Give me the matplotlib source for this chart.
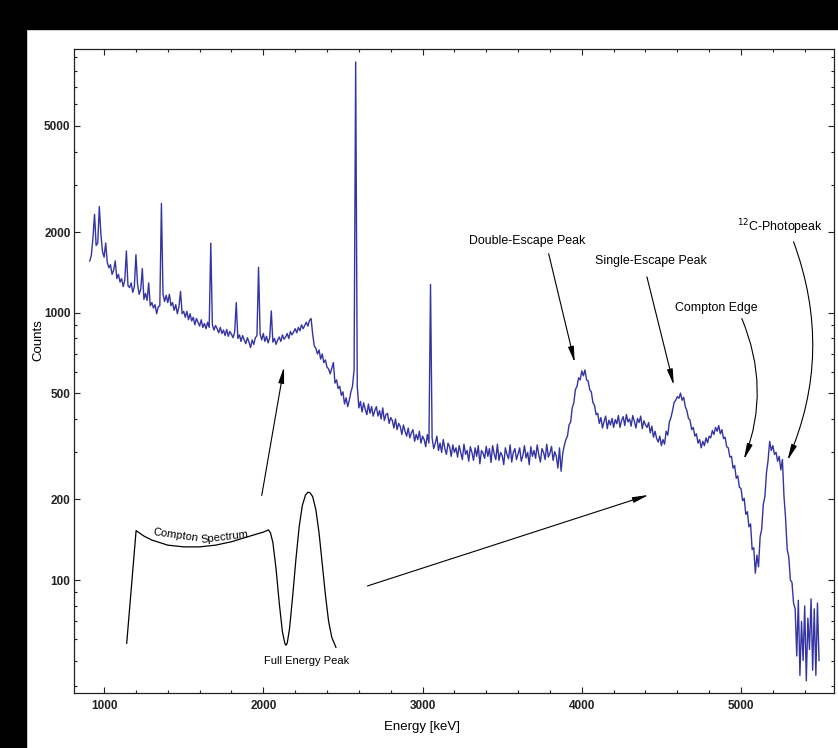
import numpy as np
import matplotlib
matplotlib.use("Agg")
import matplotlib.pyplot as plt
from matplotlib.patches import Rectangle
from matplotlib.ticker import MultipleLocator, LogLocator, NullFormatter

plt.rcParams['font.family'] = ['Liberation Sans', 'DejaVu Sans']

# measured spectrum, one value per 10 keV channel starting at 910 keV
energy_start = 910
channel_width = 10
counts = [
    1560, 1640, 1900, 2330, 1780, 1820, 2490, 1960, 1690, 1610,
    1820, 1540, 1470, 1510, 1390, 1440, 1560, 1340, 1390, 1300,
    1340, 1250, 1320, 1700, 1260, 1240, 1290, 1190, 1250, 1645,
    1280, 1170, 1220, 1460, 1120, 1180, 1110, 1290, 1060, 1090,
    1040, 1070, 990, 1050, 1060, 2560, 1170, 1100, 1160, 1090,
    1170, 1060, 1090, 1020, 1070, 990, 1050, 1200, 990, 1010,
    960, 1010, 940, 990, 930, 960, 900, 950, 920, 890,
    940, 880, 910, 870, 920, 880, 1818, 900, 860, 895,
    870, 840, 880, 835, 860, 820, 865, 815, 850, 830,
    805, 845, 1090, 800, 825, 780, 820, 790, 765, 805,
    775, 740, 790, 760, 805, 820, 1476, 830, 790, 835,
    780, 815, 770, 805, 1014, 775, 800, 760, 790, 810,
    780, 825, 795, 810, 835, 800, 850, 825, 845, 870,
    840, 880, 855, 900, 870, 895, 920, 890, 935, 950,
    830, 750, 735, 700, 725, 670, 700, 650, 665, 625,
    615, 590, 620, 650, 545, 560, 520, 530, 490, 505,
    455, 480, 445, 470, 505, 530, 610, 8650, 530, 440,
    465, 425, 460, 435, 415, 455, 420, 445, 410, 430,
    445, 410, 430, 400, 440, 395, 415, 420, 385, 405,
    395, 370, 400, 365, 385, 375, 350, 380, 360, 345,
    370, 340, 355, 365, 330, 350, 335, 360, 325, 345,
    335, 315, 350, 325, 1274, 340, 310, 325, 345, 305,
    325, 300, 335, 310, 295, 325, 315, 290, 320, 300,
    312, 288, 318, 300, 282, 322, 295, 305, 278, 315,
    300, 280, 312, 290, 318, 272, 305, 298, 285, 316,
    290, 310, 275, 318, 296, 282, 322, 280, 300, 292,
    270, 312, 295, 284, 320, 276, 300, 310, 282, 296,
    312, 278, 292, 318, 286, 300, 270, 315, 290, 305,
    285, 320, 294, 276, 310, 300, 282, 322, 288, 298,
    316, 280, 302, 290, 262, 312, 255, 296, 318, 335,
    345, 380, 390, 440, 460, 515, 530, 570, 560, 605,
    580, 610, 560, 555, 515, 505, 460, 450, 415, 420,
    385, 405, 370, 392, 410, 368, 396, 380, 402, 372,
    398, 384, 412, 372, 395, 408, 378, 416, 390, 400,
    376, 412, 392, 370, 402, 388, 410, 368, 394, 380,
    372, 388, 355, 376, 342, 360, 338, 328, 345, 318,
    335, 322, 360, 348, 390, 405, 430, 462, 470, 485,
    478, 500, 470, 482, 445, 430, 402, 396, 365, 372,
    345, 352, 325, 335, 312, 330, 318, 340, 326, 345,
    340, 362, 350, 372, 360, 378, 352, 365, 338, 342,
    315, 312, 288, 290, 262, 268, 240, 245, 222, 220,
    198, 202, 176, 180, 158, 162, 130, 132, 106, 124,
    112, 145, 155, 192, 205, 252, 280, 330, 305, 318,
    295, 300, 278, 290, 258, 282, 205, 170, 130, 122,
    100, 98, 82, 78, 52, 84, 44, 70, 50, 80,
    42, 72, 55, 85, 46, 78, 44, 82, 50,
]

# sketch of an ideal detector response (inset)
inset_energy = [1142, 1201, 1250, 1300, 1350, 1400, 1450, 1500, 1550, 1600,
                1650, 1700, 1750, 1800, 1850, 1900, 1950, 2000, 2032, 2045,
                2060, 2080, 2100, 2120, 2135, 2142, 2150, 2165, 2185, 2205,
                2225, 2245, 2265, 2280, 2293, 2310, 2330, 2350, 2370, 2390,
                2410, 2430, 2456]
inset_counts = [58, 153, 146, 141, 138, 135, 134, 133, 133, 133,
                134, 135, 137, 139, 142, 145, 148, 151, 154, 150,
                138, 110, 82, 64, 58, 57, 58, 66, 88, 120,
                158, 190, 208, 213, 212, 205, 183, 150, 115, 88,
                70, 61, 56]

y_ticks = [100, 200, 500, 1000, 2000, 5000]
x_ticks = [1000, 2000, 3000, 4000, 5000]

# (label, label position, arrow start, arrow tip, curvature)
labels = [
    ("Double-Escape Peak", (3659, 1850), (3792, 1660), (3956, 650), 0.0),
    ("Single-Escape Peak", (4432, 1560), (4409, 1360), (4578, 535), 0.0),
    ("Compton Edge", (4845, 1040), (5005, 950), (5018, 282), -0.2),
    ("$^{12}$C-Photopeak", (5245, 2090), (5330, 1840), (5292, 280), -0.2),
]
inset_arrows = [
    ((1990, 207), (2130, 626)),
    ((2654, 95), (4420, 208)),
]

energy = energy_start + channel_width * np.arange(len(counts))

fig = plt.figure(figsize=(8.38, 7.48), dpi=100)
ax = fig.add_axes([74 / 838, 1 - 693 / 748, 760 / 838, 644 / 748])

ax.plot(energy, counts, color='#3434a2', lw=1.0)
ax.plot(inset_energy, inset_counts, color='black', lw=0.9)

ax.set_yscale('log')
ax.set_xlim(811, 5584)
ax.set_ylim(37.8, 9670)

ax.set_xticks(x_ticks, [str(t) for t in x_ticks])
ax.xaxis.set_minor_locator(MultipleLocator(200))
ax.set_yticks(y_ticks, [str(t) for t in y_ticks])
ax.yaxis.set_minor_locator(LogLocator(base=10, subs=np.arange(1, 10)))
ax.yaxis.set_minor_formatter(NullFormatter())

ax.tick_params(which='both', direction='in', top=True, right=True,
               width=0.8, colors='#222222')
ax.tick_params(which='major', length=4, labelsize=8.5)
ax.tick_params(axis='y', which='major', pad=2.5)
ax.tick_params(axis='x', which='major', pad=5)
ax.tick_params(which='minor', length=2)
for lab in ax.get_xticklabels() + ax.get_yticklabels():
    lab.set_fontweight('bold')
for sp in ax.spines.values():
    sp.set_linewidth(0.9)
    sp.set_color('#222222')

ax.set_xlabel('Energy [keV]', fontsize=9.5)
ax.set_ylabel('Counts', fontsize=9.5)
ax.xaxis.set_label_coords((422 - 74) / 760, -(721 - 693) / 644)
ax.yaxis.set_label_coords((44 - 74) / 760, (693 - 340) / 644)

head = '-|>,head_length=0.95,head_width=0.17'
for text, pos, start, tip, rad in labels:
    ax.text(pos[0], pos[1], text, ha='center', va='center', fontsize=8.9)
    ax.annotate('', xy=tip, xytext=start,
                arrowprops=dict(arrowstyle=head, color='black', lw=0.8,
                                shrinkA=0, shrinkB=0, mutation_scale=10,
                                connectionstyle=f'arc3,rad={rad}'))

for start, tip in inset_arrows:
    ax.annotate('', xy=tip, xytext=start,
                arrowprops=dict(arrowstyle=head, color='black', lw=0.8,
                                shrinkA=0, shrinkB=0, mutation_scale=10))

ax.text(1448, 143, 'Compton', ha='center', va='baseline', fontsize=8,
        rotation=-8, rotation_mode='anchor')
ax.text(1758, 141, 'Spectrum', ha='center', va='baseline', fontsize=8,
        rotation=7, rotation_mode='anchor')
ax.text(2275, 50, 'Full Energy Peak', ha='center', va='center', fontsize=8)

# black frame bands of the original scan
fig.patches.append(Rectangle((0, 1 - 29 / 748), 1, 29 / 748,
                             transform=fig.transFigure, color='black'))
fig.patches.append(Rectangle((0, 0), 26 / 838, 1,
                             transform=fig.transFigure, color='black'))

fig.savefig('out.png', dpi=100)
